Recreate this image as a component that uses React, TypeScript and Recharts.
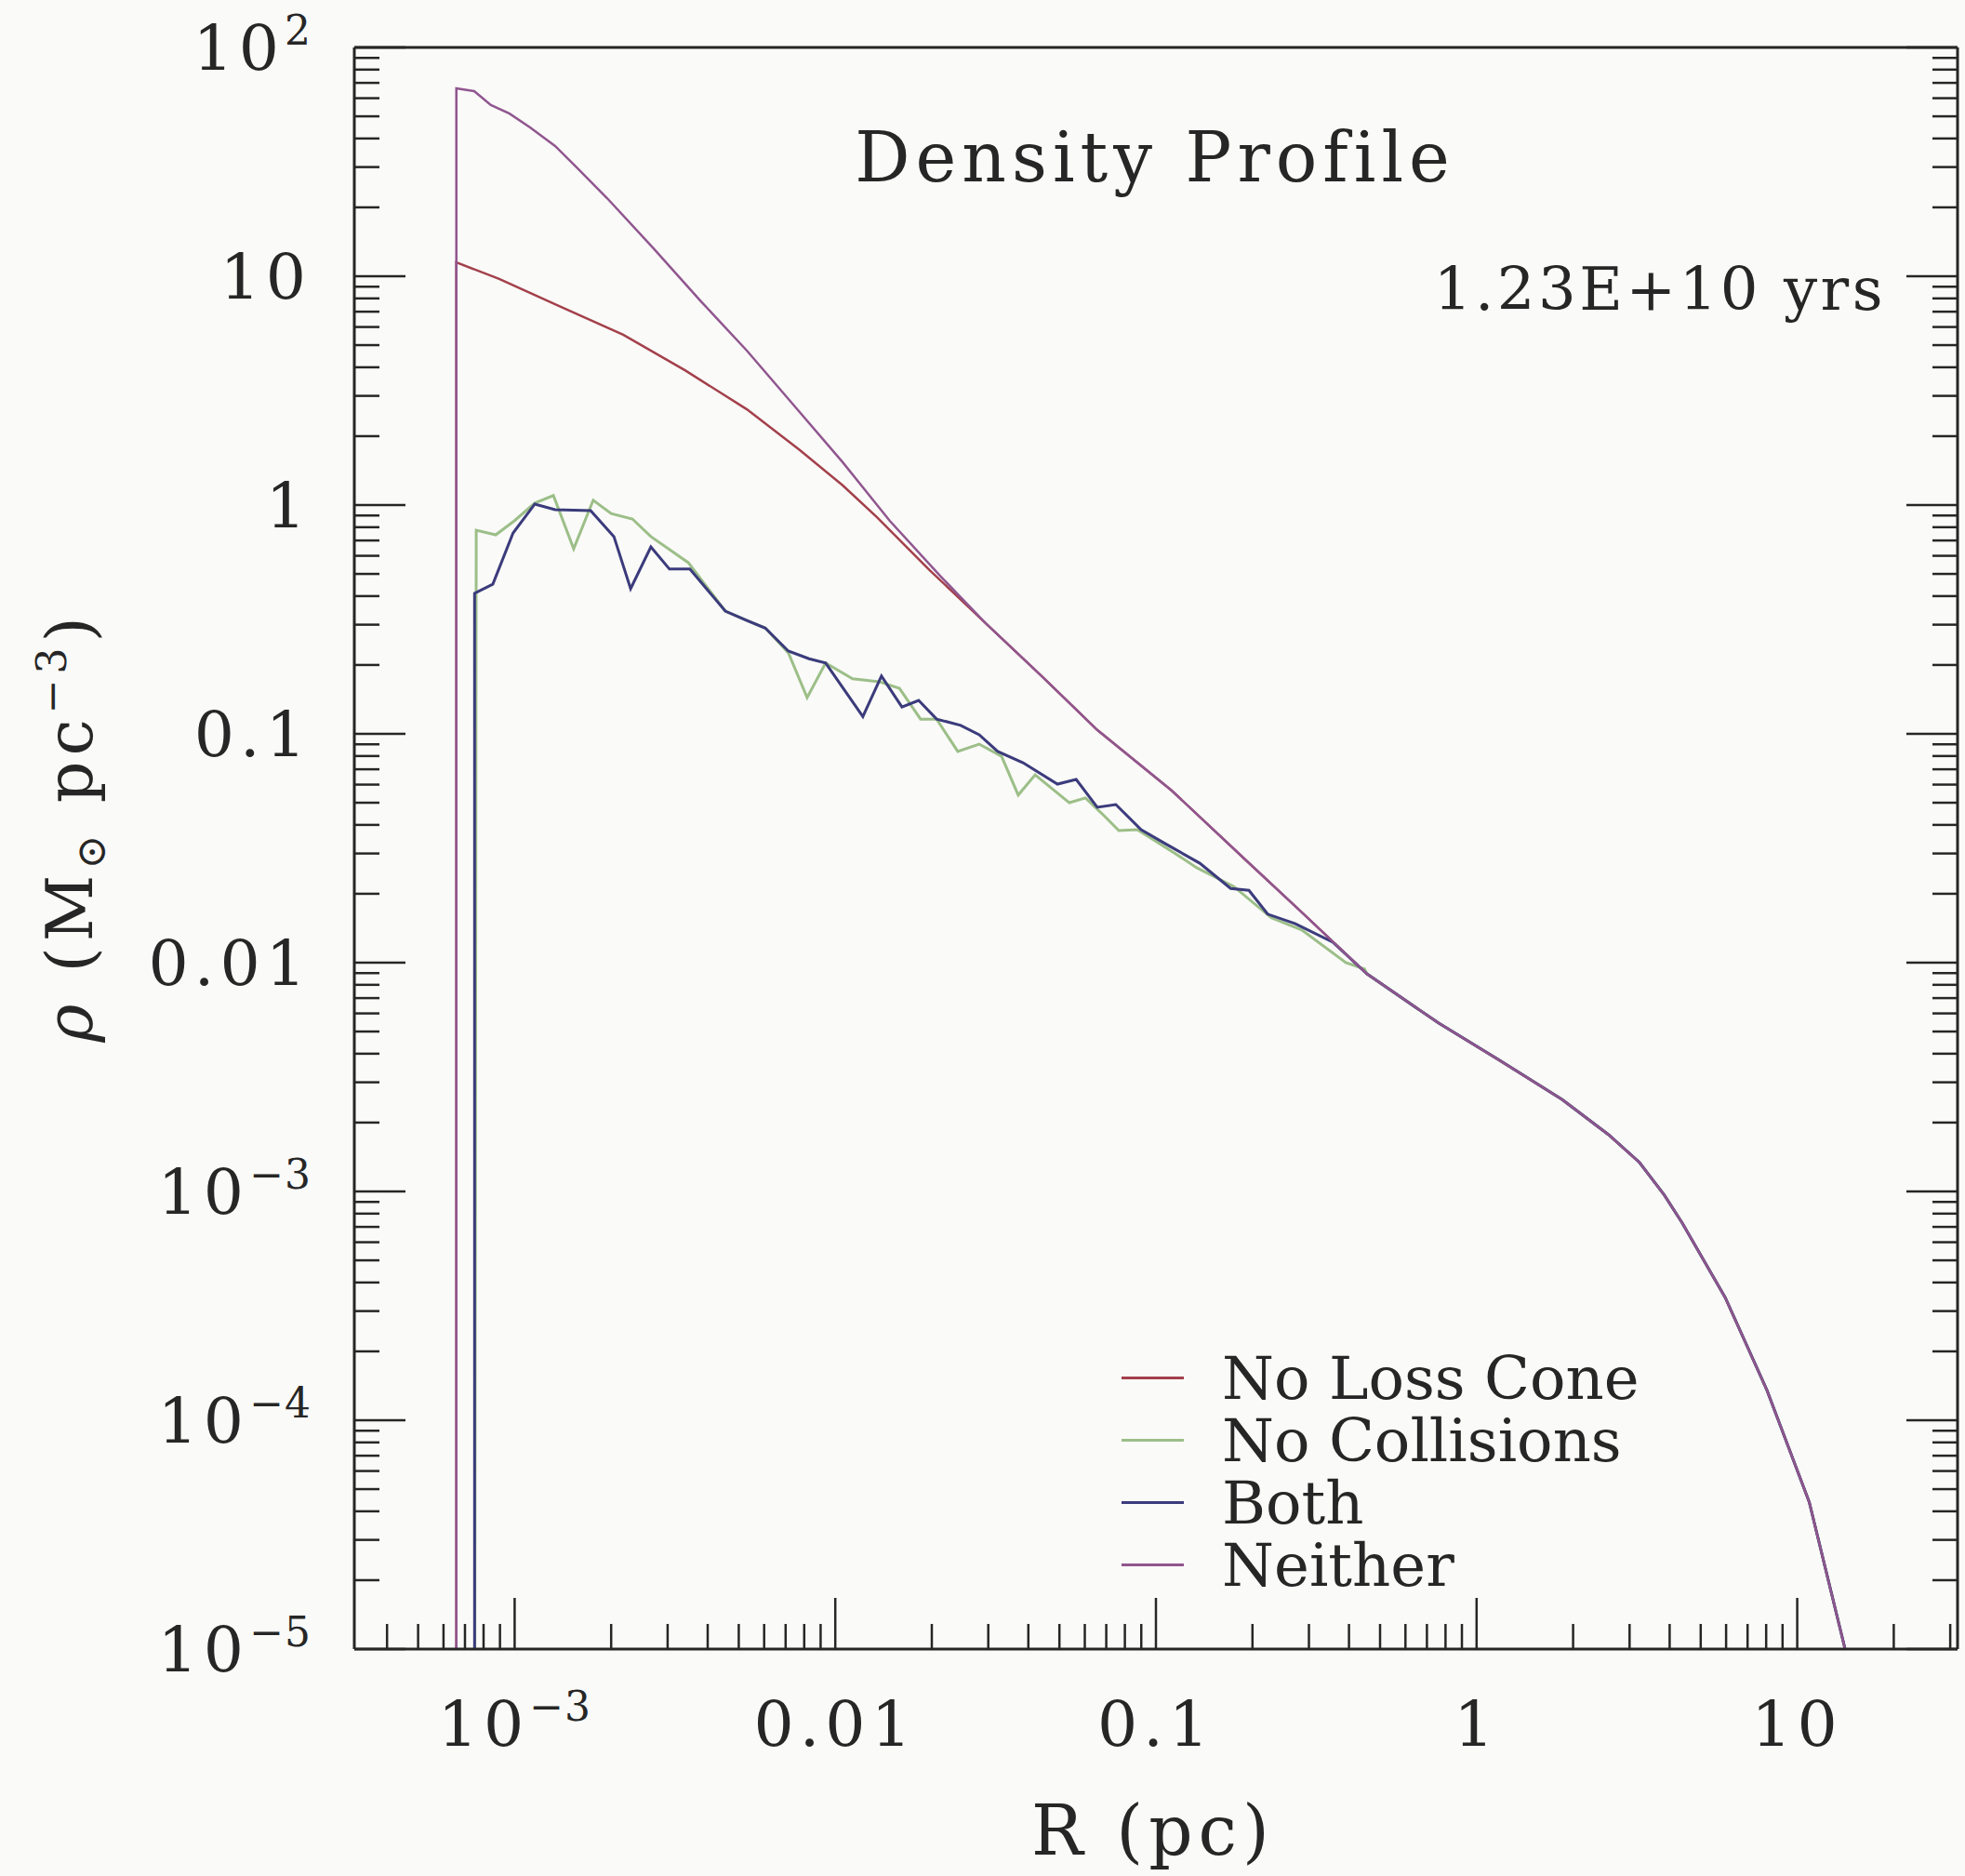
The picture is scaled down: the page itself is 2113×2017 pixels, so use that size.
import React from 'react'
import { LineChart, Line, XAxis, YAxis, Legend } from 'recharts'

// radius R (pc) and density rho (Msun pc^-3)
const neitherR = [6.58e-4, 6.58e-4, 7.48e-4, 8.43e-4, 9.64e-4, 1.117e-3, 1.337e-3, 1.56e-3, 1.945e-3, 2.716e-3, 3.79e-3, 5.3e-3, 7.74e-3, 1.054e-2, 1.479e-2, 2.11e-2]
const neitherRho = [1e-6, 66.2, 64.4, 56.0, 51.4, 44.7, 37.1, 29.9, 21.9, 13.2, 7.83, 4.73, 2.55, 1.54, 0.853, 0.495]

const noLossR = [6.58e-4, 6.58e-4, 8.95e-4, 1.393e-3, 2.18e-3, 3.4e-3, 5.3e-3, 7.74e-3, 1.054e-2, 1.349e-2, 1.97e-2]
const noLossRho = [1e-6, 11.5, 9.73, 7.35, 5.55, 3.88, 2.62, 1.74, 1.22, 0.885, 0.519]

// where the two smooth curves have joined
const upperR = [2.94e-2, 4.4e-2, 6.56e-2, 0.112, 0.191, 0.285]
const upperRho = [0.305, 0.179, 0.104, 0.0565, 0.028, 0.0166]

const bothR = [7.5e-4, 7.5e-4, 8.55e-4, 9.89e-4, 1.156e-3, 1.337e-3, 1.726e-3, 2.04e-3, 2.3e-3, 2.66e-3, 3.04e-3, 3.52e-3, 4.54e-3, 5.3e-3, 6.05e-3, 7.14e-3, 8.28e-3, 9.33e-3, 1.219e-2, 1.393e-2, 1.614e-2, 1.82e-2, 2.07e-2, 2.46e-2, 2.81e-2, 3.21e-2, 3.85e-2, 4.93e-2, 5.64e-2, 6.56e-2, 7.5e-2, 8.99e-2, 0.107, 0.137, 0.171, 0.195, 0.223, 0.272, 0.356]
const bothRho = [1e-6, 0.411, 0.451, 0.755, 1.01, 0.955, 0.946, 0.728, 0.431, 0.656, 0.525, 0.525, 0.344, 0.313, 0.29, 0.23, 0.213, 0.204, 0.119, 0.179, 0.131, 0.14, 0.116, 0.109, 0.0991, 0.0838, 0.0748, 0.0603, 0.0632, 0.0478, 0.0491, 0.0381, 0.0331, 0.0272, 0.0211, 0.0207, 0.0163, 0.0148, 0.0123]

const noCollR = [7.5e-4, 7.59e-4, 8.73e-4, 9.98e-4, 1.156e-3, 1.321e-3, 1.528e-3, 1.758e-3, 2.0e-3, 2.33e-3, 2.66e-3, 3.48e-3, 4.54e-3, 5.3e-3, 6.05e-3, 7.14e-3, 8.17e-3, 9.33e-3, 1.132e-2, 1.368e-2, 1.585e-2, 1.845e-2, 2.07e-2, 2.41e-2, 2.81e-2, 3.3e-2, 3.72e-2, 4.2e-2, 5.37e-2, 6.03e-2, 6.89e-2, 7.66e-2, 8.75e-2, 0.114, 0.134, 0.175, 0.229, 0.285, 0.391, 0.447]
const noCollRho = [1e-6, 0.776, 0.741, 0.853, 1.02, 1.1, 0.644, 1.05, 0.918, 0.869, 0.728, 0.56, 0.344, 0.313, 0.29, 0.226, 0.144, 0.204, 0.174, 0.169, 0.158, 0.116, 0.116, 0.0838, 0.0902, 0.0798, 0.054, 0.0662, 0.05, 0.0525, 0.0439, 0.0378, 0.0381, 0.0302, 0.026, 0.0215, 0.0157, 0.0139, 0.01, 9.38e-3]

// outer part, same for all four runs
const tailR = [0.455, 0.762, 1.18, 1.85, 2.58, 3.22, 3.85, 4.38, 5.96, 8.05, 10.9, 14.1, 15.2]
const tailRho = [8.93e-3, 5.44e-3, 3.74e-3, 2.52e-3, 1.77e-3, 1.34e-3, 9.64e-4, 7.28e-4, 3.44e-4, 1.35e-4, 4.39e-5, 1.0e-5, 5.4e-6]

const xMajor = [1e-3, 0.01, 0.1, 1, 10]
const xMajorLabels = [['10', '−3'], ['0.01'], ['0.1'], ['1'], ['10']]
const yMajor = [1e2, 10, 1, 0.1, 0.01, 1e-3, 1e-4, 1e-5]
const yMajorLabels = [['10', '2'], ['10'], ['1'], ['0.1'], ['0.01'], ['10', '−3'], ['10', '−4'], ['10', '−5']]

const xDomain = [10 ** -3.5, 10 ** 1.5]
const yDomain = [1e-5, 1e2]

const FONT = '"DejaVu Serif", "Liberation Serif", serif'
const INK = '#262626'
const MAJOR_LEN = 55
const MINOR_LEN = 27

const toPoints = (r: number[], rho: number[]) => r.map((x, i) => ({ x, y: rho[i] }))

const series = [
  { name: 'No Loss Cone', color: '#a3404b', width: 2.5, data: toPoints([...noLossR, ...upperR, ...tailR], [...noLossRho, ...upperRho, ...tailRho]) },
  { name: 'No Collisions', color: '#9cbf88', width: 3, data: toPoints([...noCollR, ...tailR], [...noCollRho, ...tailRho]) },
  { name: 'Both', color: '#3b3b7c', width: 3, data: toPoints([...bothR, ...tailR], [...bothRho, ...tailRho]) },
  { name: 'Neither', color: '#90568f', width: 2.5, data: toPoints([...neitherR, ...upperR, ...tailR], [...neitherRho, ...upperRho, ...tailRho]) },
]
const seriesOrder = series.map((s) => s.name)

function logTicks(lo: number, hi: number) {
  const out: number[] = []
  for (let e = Math.floor(Math.log10(lo)); e <= Math.ceil(Math.log10(hi)); e++) {
    for (let m = 1; m <= 9; m++) {
      const v = Number((m * 10 ** e).toPrecision(6))
      if (v >= lo * 0.999999 && v <= hi * 1.000001) out.push(v)
    }
  }
  return out
}
const xTicks = logTicks(xDomain[0], xDomain[1])
const yTicks = logTicks(yDomain[0], yDomain[1])

const isMajor = (v: number) => Math.abs(Math.log10(v) - Math.round(Math.log10(v))) < 1e-6
const findMajor = (list: number[], v: number) =>
  list.findIndex((m) => Math.abs(Math.log10(m) - Math.log10(v)) < 1e-6)

function TickText({ x, y, parts, anchor }: { x: number; y: number; parts: string[]; anchor: 'middle' | 'end' }) {
  return (
    <text x={x} y={y} textAnchor={anchor} fontFamily={FONT} fontSize={68} letterSpacing={6} fill={INK}>
      {parts[0]}
      {parts[1] && (
        <tspan dy={-27} fontSize={44} letterSpacing={1}>
          {parts[1]}
        </tspan>
      )}
    </text>
  )
}

const BottomTick = (p: any) => {
  const { x, y, payload } = p
  const v = payload.value
  const idx = findMajor(xMajor, v)
  return (
    <g>
      <line x1={x} x2={x} y1={y} y2={y - (isMajor(v) ? MAJOR_LEN : MINOR_LEN)} stroke={INK} strokeWidth={2.5} />
      {idx >= 0 && <TickText x={x} y={y + 104} parts={xMajorLabels[idx]} anchor="middle" />}
    </g>
  )
}

const TopTick = (p: any) => {
  const { x, y, payload } = p
  return (
    <line x1={x} x2={x} y1={y} y2={y + (isMajor(payload.value) ? MAJOR_LEN : MINOR_LEN)} stroke={INK} strokeWidth={2.5} />
  )
}

const LeftTick = (p: any) => {
  const { x, y, payload } = p
  const v = payload.value
  const idx = findMajor(yMajor, v)
  return (
    <g>
      <line x1={x} x2={x + (isMajor(v) ? MAJOR_LEN : MINOR_LEN)} y1={y} y2={y} stroke={INK} strokeWidth={2.5} />
      {idx >= 0 && <TickText x={x - 46} y={y + 24} parts={yMajorLabels[idx]} anchor="end" />}
    </g>
  )
}

const RightTick = (p: any) => {
  const { x, y, payload } = p
  return (
    <line x1={x} x2={x - (isMajor(payload.value) ? MAJOR_LEN : MINOR_LEN)} y1={y} y2={y} stroke={INK} strokeWidth={2.5} />
  )
}

const renderLegend = (props: any) => {
  const items = [...(props.payload || [])].sort(
    (a: any, b: any) => seriesOrder.indexOf(a.value) - seriesOrder.indexOf(b.value),
  )
  return (
    <div style={{ fontFamily: FONT, fontSize: 64, color: INK }}>
      {items.map((e: any) => (
        <div key={e.value} style={{ display: 'flex', alignItems: 'center', height: 67 }}>
          <span style={{ display: 'inline-block', width: 67, height: 0, borderTop: `3px solid ${e.color}`, marginRight: 41 }} />
          <span style={{ whiteSpace: 'nowrap' }}>{e.value}</span>
        </div>
      ))}
    </div>
  )
}

const axisLine = { stroke: INK, strokeWidth: 3 }

export default function App() {
  return (
    <div style={{ position: 'absolute', left: 0, top: 0, width: 2113, height: 2017, background: '#fafaf8' }}>
      <LineChart width={2113} height={2017} margin={{ top: 50, right: 7, bottom: 44, left: 81 }}>
        <XAxis
          dataKey="x"
          type="number"
          scale="log"
          domain={xDomain}
          allowDataOverflow
          ticks={xTicks}
          interval={0}
          height={200}
          tickSize={0}
          tickMargin={0}
          tickLine={false}
          axisLine={axisLine}
          tick={BottomTick}
        />
        <XAxis
          xAxisId="top"
          orientation="top"
          type="number"
          scale="log"
          domain={xDomain}
          allowDataOverflow
          ticks={xTicks}
          interval={0}
          height={1}
          tickSize={0}
          tickMargin={0}
          tickLine={false}
          axisLine={axisLine}
          tick={TopTick}
        />
        <YAxis
          type="number"
          scale="log"
          domain={yDomain}
          allowDataOverflow
          ticks={yTicks}
          interval={0}
          width={300}
          tickSize={0}
          tickMargin={0}
          tickLine={false}
          axisLine={axisLine}
          tick={LeftTick}
        />
        <YAxis
          yAxisId="right"
          orientation="right"
          type="number"
          scale="log"
          domain={yDomain}
          allowDataOverflow
          ticks={yTicks}
          interval={0}
          width={1}
          tickSize={0}
          tickMargin={0}
          tickLine={false}
          axisLine={axisLine}
          tick={RightTick}
        />
        {series.map((s) => (
          <Line
            key={s.name}
            data={s.data}
            dataKey="y"
            name={s.name}
            type="linear"
            stroke={s.color}
            strokeWidth={s.width}
            dot={false}
            activeDot={false}
            isAnimationActive={false}
          />
        ))}
        <Legend
          layout="horizontal"
          verticalAlign="middle"
          align="center"
          wrapperStyle={{ left: 1206, top: 1448, width: 760, height: 270 }}
          content={renderLegend}
        />
      </LineChart>
      <svg width={2113} height={2017} style={{ position: 'absolute', left: 0, top: 0, pointerEvents: 'none' }}>
        <text x={1242} y={195} textAnchor="middle" fontFamily={FONT} fontSize={74} letterSpacing={6} fill={INK}>
          Density Profile
        </text>
        <text x={2028} y={333} textAnchor="end" fontFamily={FONT} fontSize={64} letterSpacing={3.5} fill={INK}>
          1.23E+10 yrs
        </text>
        <text x={1240} y={1994} textAnchor="middle" fontFamily={FONT} fontSize={74} letterSpacing={6} fill={INK}>
          R (pc)
        </text>
        <text
          x={99}
          y={889}
          transform="rotate(-90 99 889)"
          textAnchor="middle"
          fontFamily={FONT}
          fontSize={70}
          letterSpacing={6}
          fill={INK}
        >
          <tspan fontStyle="italic">ρ</tspan> (M
          <tspan dy={14} fontSize={44}>⊙</tspan>
          <tspan dy={-14}> pc</tspan>
          <tspan dy={-28} fontSize={44}>−3</tspan>
          <tspan dy={28}>)</tspan>
        </text>
      </svg>
    </div>
  )
}
